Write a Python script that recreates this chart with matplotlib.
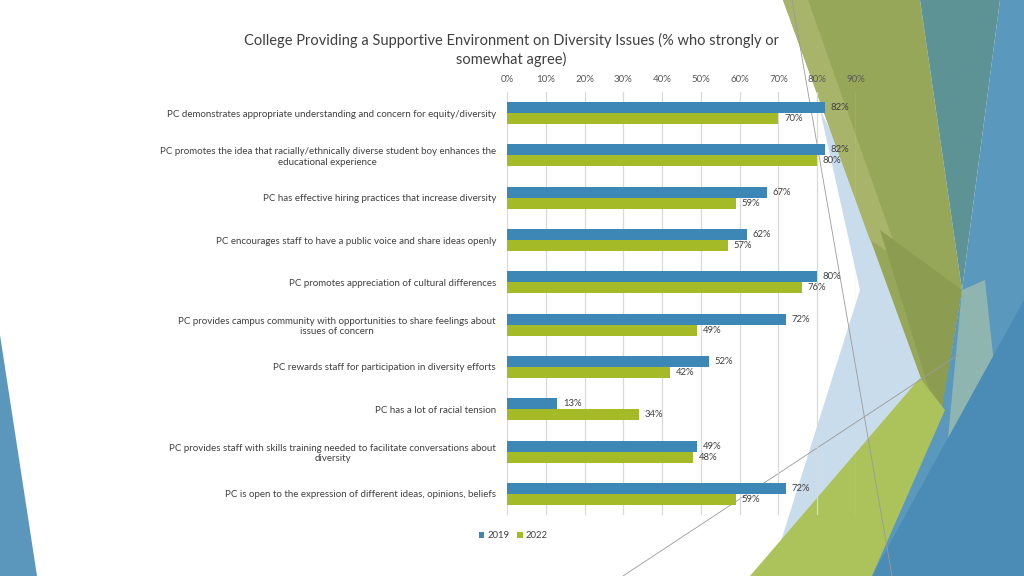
import numpy as np
import matplotlib
matplotlib.use("Agg")
import matplotlib.pyplot as plt
from matplotlib.patches import Polygon
from matplotlib.lines import Line2D

# Data
categories = [
    "PC demonstrates appropriate understanding and concern for equity/diversity",
    "PC promotes the idea that racially/ethnically diverse student boy enhances the\neducational experience",
    "PC has effective hiring practices that increase diversity",
    "PC encourages staff to have a public voice and share ideas openly",
    "PC promotes appreciation of cultural differences",
    "PC provides campus community with opportunities to share feelings about\nissues of concern",
    "PC rewards staff for participation in diversity efforts",
    "PC has a lot of racial tension",
    "PC provides staff with skills training needed to facilitate conversations about\ndiversity",
    "PC is open to the expression of different ideas, opinions, beliefs",
]
vals_2019 = [82, 82, 67, 62, 80, 72, 52, 13, 49, 72]
vals_2022 = [70, 80, 59, 57, 76, 49, 42, 34, 48, 59]
series_names = ["2019", "2022"]
x_ticks = [0, 10, 20, 30, 40, 50, 60, 70, 80, 90]

title = "College Providing a Supportive Environment on Diversity Issues (% who strongly or\nsomewhat agree)"

plt.rcParams['font.family'] = ['Lato', 'DejaVu Sans']

W, H = 1024, 576
fig = plt.figure(figsize=(W / 100, H / 100), dpi=100)

# Decorative slide background (pixel coords, y down)
def px(points):
    return [(x / W, 1 - y / H) for x, y in points]

shapes = [
    ([(820, 110), (955, 375), (775, 560), (860, 290)], "#c9dceb"),
    ([(783, 0), (920, 0), (962, 290), (938, 425)], "#97a75a"),
    ([(783, 0), (808, 0), (900, 260), (870, 240)], "#a7b46a"),
    ([(880, 230), (962, 290), (940, 425)], "#8c9c50"),
    ([(920, 0), (1000, 0), (962, 290)], "#5e9396"),
    ([(1000, 0), (1024, 0), (1024, 576), (860, 576), (940, 420), (962, 290)], "#5a98bd"),
    ([(962, 290), (985, 280), (1000, 420), (945, 470)], "#8eb5b0"),
    ([(1024, 300), (1024, 576), (872, 576)], "#4a8cb5"),
    ([(750, 576), (920, 378), (945, 410), (872, 576)], "#abc35a"),
    ([(0, 335), (37, 576), (0, 576)], "#5b97bc"),
]
for pts, c in shapes:
    fig.patches.append(Polygon(px(pts), closed=True, transform=fig.transFigure,
                               facecolor=c, edgecolor="none", zorder=0))
for (x0, y0), (x1, y1) in [((792, 0), (892, 576)), ((623, 576), (958, 355))]:
    fig.lines.append(Line2D([x0 / W, x1 / W], [1 - y0 / H, 1 - y1 / H],
                            transform=fig.transFigure, color="#9a9a9a", lw=0.6, zorder=1))

ax = fig.add_axes([507 / W, 1 - 515 / H, (856 - 507) / W, (515 - 92) / H])
ax.patch.set_alpha(0)
ax.set_zorder(3)

y = np.arange(len(categories))
h = 0.26
c19, c22 = "#3d87b6", "#a5ba27"
b1 = ax.barh(y - h / 2, vals_2019, height=h, color=c19, label=series_names[0], zorder=3)
b2 = ax.barh(y + h / 2, vals_2022, height=h, color=c22, label=series_names[1], zorder=3)

for bars, vals in [(b1, vals_2019), (b2, vals_2022)]:
    for bar, v in zip(bars, vals):
        ax.annotate(f"{v}%", (v, bar.get_y() + bar.get_height() / 2),
                    xytext=(4, 0), textcoords="offset points",
                    va="center", ha="left", fontsize=6.8, color="#404040")

ax.set_xlim(0, 90)
ax.set_ylim(len(categories) - 0.5, -0.5)
ax.set_xticks(x_ticks)
ax.set_xticklabels([f"{t}%" for t in x_ticks])
ax.xaxis.tick_top()
ax.tick_params(axis="x", length=0, labelsize=7, labelcolor="#595959", pad=6)
ax.set_yticks(y)
ax.set_yticklabels(categories, fontsize=7, color="#404040", ha="center",
                   multialignment="center")
ax.tick_params(axis="y", length=0, pad=8)
for lab in ax.get_yticklabels():
    lab.set_horizontalalignment("right")
ax.grid(axis="x", color="#d9d9d9", lw=0.9, zorder=0)
for s in ax.spines.values():
    s.set_visible(False)

fig.text(511 / W, 1 - 50 / H, title, ha="center", va="center", fontsize=10.5,
         color="#404040", linespacing=1.3)

leg = fig.legend(handles=[b1, b2], loc="center", bbox_to_anchor=(513 / W, 1 - 536 / H),
                 ncol=2, frameon=False, fontsize=6.8, handlelength=0.6, handleheight=0.6,
                 handletextpad=0.3, columnspacing=0.8)
leg.set_zorder(4)
for t in leg.get_texts():
    t.set_color("#404040")

fig.savefig("out.png", dpi=100)
